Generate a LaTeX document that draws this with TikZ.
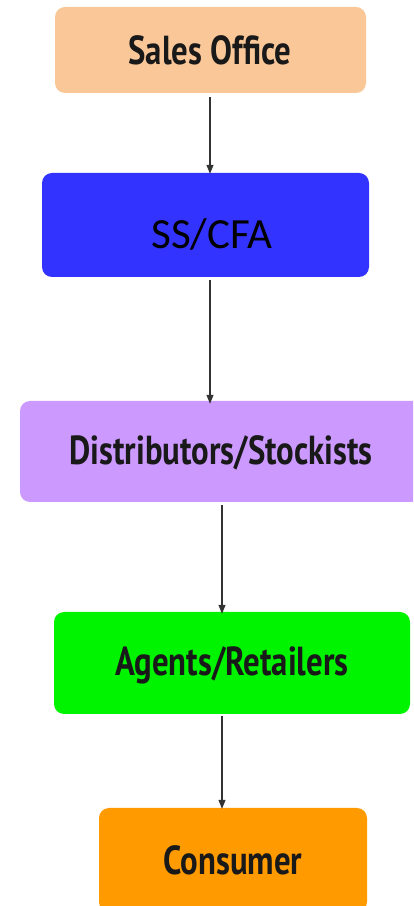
\documentclass[tikz,border=0pt]{standalone}
\usepackage{fontspec}
\setmainfont{PT Sans}
\newfontfamily\boldlab{PT Sans}[FakeStretch=0.81]
\newfontfamily\callab{Carlito}
\usetikzlibrary{arrows.meta}
\definecolor{peach}{HTML}{FAC898}
\definecolor{ssblue}{HTML}{3333FF}
\definecolor{lilac}{HTML}{CC99FF}
\definecolor{lime}{HTML}{00F400}
\definecolor{orng}{HTML}{FF9A00}
\definecolor{arrgray}{HTML}{333333}
\tikzset{
  box/.style={rounded corners=10pt, draw=none, inner sep=0pt},
  lab/.style={font=\boldlab\bfseries\fontsize{40.5}{44}\selectfont, text=black!90, inner sep=0pt},
  arr/.style={draw=arrgray, line width=1.1pt, -{Triangle[length=9pt,width=7pt]}}
}
\begin{document}
\begin{tikzpicture}[x=1pt,y=1pt]
\useasboundingbox[fill=white] (0,0) rectangle (413,906);
\begin{scope}
\clip (0,0) rectangle (413,906);
% boxes
\node[box, fill=peach, minimum width=311pt, minimum height=86pt] (so) at (210.5,856) {};
\node[box, fill=ssblue, minimum width=327pt, minimum height=104pt] (ss) at (205.5,681) {};
\node[box, fill=lilac, minimum width=405pt, minimum height=101pt] (ds) at (222.5,454.5) {};
\node[box, fill=lime, minimum width=356pt, minimum height=102pt] (ag) at (232,243) {};
\node[box, fill=orng, minimum width=268pt, minimum height=104pt] (co) at (233,46) {};
% labels
\node[lab] (sot) at (210,856) {Sales Office};
\node[font=\callab\fontsize{43}{47}\selectfont, text=black, inner sep=0pt] (sst) at (212,672) {SS/CFA};
\node[lab] (dst) at (221,453) {Distributors/Stockists};
\node[lab] (agt) at (232,241) {Agents/Retailers};
\node[lab] (cot) at (233,46) {Consumer};
\end{scope}
% connectors
\draw[arr] ([xshift=-0.5pt,yshift=-4pt]so.south) -- ([xshift=-0.5pt,yshift=-1pt]ss.north -| so.south);
\draw[arr] ([xshift=4.5pt,yshift=-3pt]ss.south) -- ([xshift=-12.5pt,yshift=-3pt]ds.north);
\draw[arr] ([xshift=-0.5pt,yshift=-3pt]ds.south) -- ([xshift=-10pt,yshift=-2pt]ag.north);
\draw[arr] ([xshift=-10pt,yshift=-2pt]ag.south) -- ([xshift=-11pt,yshift=-1pt]co.north);
\end{tikzpicture}
\end{document}
